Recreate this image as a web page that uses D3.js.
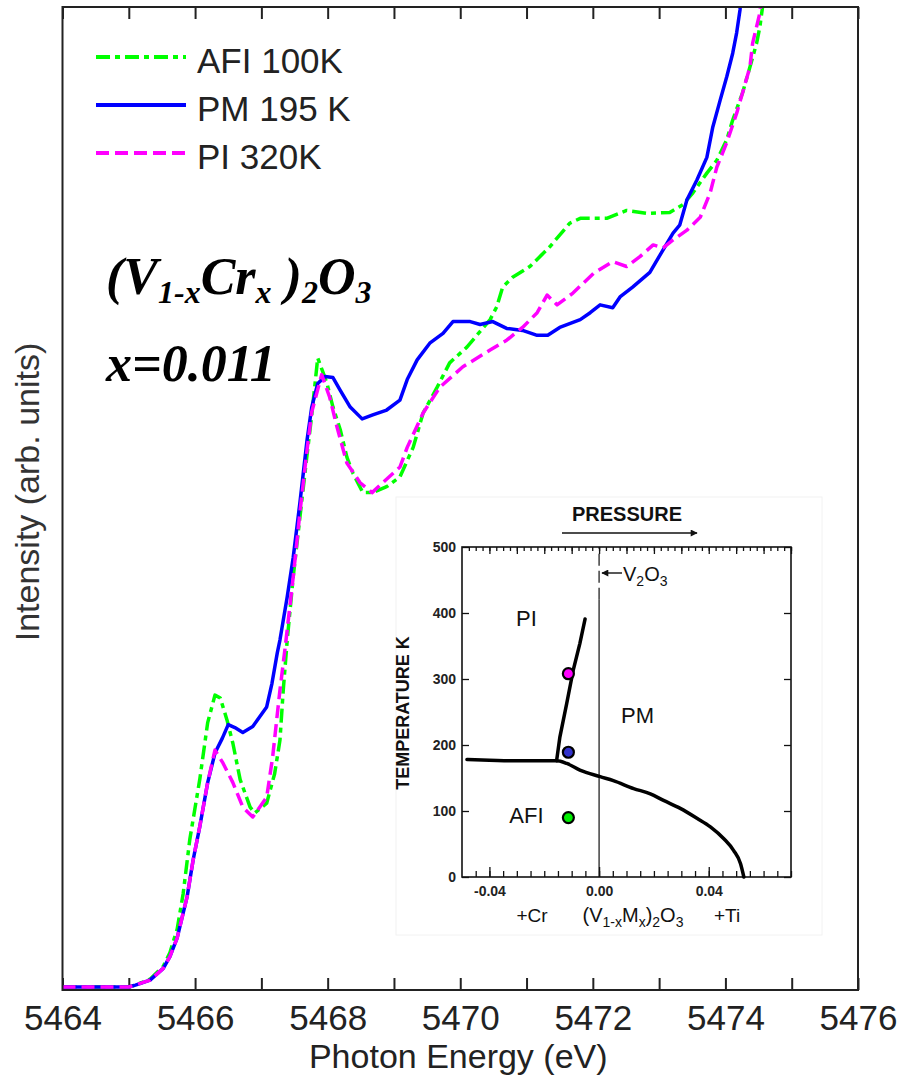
<!DOCTYPE html>
<html><head><meta charset="utf-8">
<script src="https://cdn.jsdelivr.net/npm/d3@7"></script>
<style>body{margin:0;background:#fff}svg{display:block}</style>
</head><body>
<script>
// ---------------- data ----------------
const energyTicks = [5464,5465,5466,5467,5468,5469,5470,5471,5472,5473,5474,5475,5476];
const energyLabels = [5464,5466,5468,5470,5472,5474,5476];

const afi100K = [[5464.00,0.03],[5464.50,0.03],[5465.00,0.03],[5465.10,0.05],[5465.32,0.11],[5465.52,0.24],[5465.62,0.38],[5465.73,0.62],[5465.82,0.98],[5465.92,1.53],[5466.07,2.14],[5466.19,2.72],[5466.30,3.00],[5466.38,2.97],[5466.48,2.75],[5466.57,2.51],[5466.68,2.14],[5466.83,1.86],[5466.90,1.80],[5467.08,1.90],[5467.20,2.20],[5467.28,2.54],[5467.33,3.05],[5467.39,3.56],[5467.48,4.20],[5467.58,4.80],[5467.69,5.45],[5467.76,5.85],[5467.85,6.43],[5467.92,6.30],[5467.99,6.17],[5468.08,5.93],[5468.19,5.70],[5468.29,5.42],[5468.38,5.26],[5468.53,5.06],[5468.68,5.06],[5468.89,5.12],[5469.09,5.22],[5469.29,5.52],[5469.44,5.87],[5469.65,6.13],[5469.84,6.38],[5470.10,6.54],[5470.45,6.82],[5470.55,6.95],[5470.64,7.15],[5470.79,7.25],[5471.05,7.36],[5471.35,7.56],[5471.65,7.80],[5471.81,7.85],[5472.21,7.85],[5472.51,7.93],[5472.81,7.90],[5473.16,7.91],[5473.36,7.99],[5473.51,8.11],[5473.72,8.31],[5473.87,8.44],[5474.02,8.65],[5474.11,8.85],[5474.26,9.13],[5474.37,9.39],[5474.47,9.63],[5474.52,9.80],[5474.56,10.0],[5474.62,10.3]];

const pm195K = [[5464.00,0.03],[5464.50,0.03],[5465.00,0.03],[5465.10,0.05],[5465.32,0.10],[5465.52,0.22],[5465.62,0.34],[5465.73,0.53],[5465.88,0.95],[5465.97,1.32],[5466.07,1.66],[5466.19,2.11],[5466.30,2.41],[5466.41,2.56],[5466.50,2.70],[5466.60,2.67],[5466.72,2.62],[5466.87,2.68],[5467.08,2.88],[5467.16,3.12],[5467.24,3.43],[5467.28,3.56],[5467.39,4.00],[5467.48,4.40],[5467.58,4.95],[5467.69,5.60],[5467.76,5.93],[5467.85,6.17],[5467.96,6.24],[5468.08,6.23],[5468.19,6.10],[5468.34,5.93],[5468.52,5.81],[5468.68,5.85],[5468.89,5.90],[5469.09,6.00],[5469.20,6.21],[5469.35,6.41],[5469.54,6.58],[5469.74,6.68],[5469.89,6.80],[5470.15,6.80],[5470.30,6.77],[5470.49,6.80],[5470.70,6.73],[5470.94,6.71],[5471.16,6.66],[5471.32,6.66],[5471.50,6.74],[5471.81,6.82],[5471.96,6.89],[5472.11,6.97],[5472.30,6.94],[5472.41,7.05],[5472.60,7.15],[5472.86,7.30],[5473.06,7.53],[5473.21,7.70],[5473.31,7.78],[5473.42,8.04],[5473.57,8.24],[5473.72,8.47],[5473.81,8.78],[5473.92,9.05],[5474.02,9.29],[5474.11,9.53],[5474.17,9.74],[5474.22,9.97],[5474.26,10.3]];

const pi320K = [[5464.00,0.03],[5464.50,0.03],[5465.00,0.03],[5465.10,0.05],[5465.32,0.10],[5465.52,0.22],[5465.62,0.34],[5465.73,0.53],[5465.88,0.95],[5465.97,1.32],[5466.07,1.66],[5466.19,2.11],[5466.30,2.44],[5466.42,2.31],[5466.57,2.11],[5466.72,1.86],[5466.87,1.76],[5467.08,1.96],[5467.17,2.37],[5467.28,3.05],[5467.36,3.49],[5467.48,4.20],[5467.58,4.85],[5467.69,5.50],[5467.76,5.88],[5467.91,6.26],[5468.03,6.03],[5468.14,5.73],[5468.29,5.36],[5468.49,5.16],[5468.67,5.06],[5468.83,5.16],[5469.09,5.32],[5469.20,5.52],[5469.44,5.87],[5469.69,6.13],[5470.04,6.34],[5470.45,6.51],[5470.70,6.61],[5470.94,6.74],[5471.16,6.89],[5471.31,7.07],[5471.46,6.97],[5471.70,7.09],[5472.01,7.29],[5472.30,7.41],[5472.51,7.36],[5472.71,7.46],[5472.91,7.58],[5473.06,7.55],[5473.21,7.63],[5473.42,7.73],[5473.62,7.86],[5473.77,8.11],[5473.87,8.37],[5474.02,8.62],[5474.17,8.92],[5474.26,9.13],[5474.37,9.39],[5474.41,9.63],[5474.52,9.94],[5474.56,10.3]];

const seriesNames = ["AFI 100K","PM 195 K","PI 320K"];
const seriesColors = ["#00ff00","#0000ff","#ff00ff"];

// inset: phase diagram (V1-xMx)2O3
const insetXTicks = [-0.04, 0.00, 0.04];
const insetYTicks = [0,100,200,300,400,500];
const neelLine = [[-0.0482,178],[-0.040,177],[-0.030,176],[-0.0155,176],[-0.0118,172],[-0.0070,162],[0.0004,152],[0.0052,146],[0.0126,134],[0.0187,126],[0.0235,116],[0.0296,104],[0.0357,89],[0.0406,76],[0.0455,58],[0.0491,40],[0.0516,20],[0.0528,0]];
const mitLine = [[-0.0155,176],[-0.0143,212],[-0.0118,263],[-0.0094,314],[-0.0070,354],[-0.0051,391]];
const samplePoints = [[-0.0112,308,"#ff00ff"],[-0.0112,189,"#3333cc"],[-0.0112,90,"#00ee00"]];
const phaseLabels = [["PI",-0.0265,392],["PM",0.0140,245],["AFI",-0.0265,94]];

// ---------------- layout ----------------
const W = 901, H = 1084;
const svg = d3.select("body").append("svg").attr("width", W).attr("height", H)
  .style("font-family","'Liberation Sans', Arial, sans-serif");

const L = 62.5, R = 858, T = 7, B = 990;
const x = d3.scaleLinear().domain([5464, 5476]).range([L, R]);
const y = d3.scaleLinear().domain([0, 10]).range([B, T]);
const ink = "#222";

svg.append("defs").append("clipPath").attr("id","plotclip")
  .append("rect").attr("x",L).attr("y",T).attr("width",R-L).attr("height",B-T);

// axes
const gb = svg.append("g").attr("transform",`translate(0,${B})`)
  .call(d3.axisBottom(x).tickValues(energyTicks).tickSizeInner(-12).tickSizeOuter(0).tickPadding(15)
    .tickFormat(d => energyLabels.includes(d) ? d : ""));
gb.select(".domain").remove();
gb.selectAll("line").attr("stroke",ink).attr("stroke-width",2);
gb.selectAll("text").attr("font-size",35).attr("fill",ink).attr("font-family","'Liberation Sans', Arial, sans-serif");

const gt = svg.append("g").attr("transform",`translate(0,${T})`)
  .call(d3.axisTop(x).tickValues(energyTicks).tickSizeInner(-12).tickSizeOuter(0).tickFormat(""));
gt.select(".domain").remove();
gt.selectAll("line").attr("stroke",ink).attr("stroke-width",2);

svg.append("text").attr("x",(L+R)/2 - 2).attr("y",1068).attr("text-anchor","middle")
  .attr("font-size",34).attr("fill",ink).text("Photon Energy (eV)");
svg.append("text").attr("transform","translate(39,492) rotate(-90)").attr("text-anchor","middle")
  .attr("font-size",34).attr("fill","#333").text("Intensity (arb. units)");

// curves
const line = d3.line().x(d => x(d[0])).y(d => y(d[1]));
const dashes = ["14,5,5,5", null, "13,6"];
const gc = svg.append("g").attr("clip-path","url(#plotclip)");
[afi100K, pm195K, pi320K].forEach((s,i) => {
  gc.append("path").datum(s).attr("d",line).attr("fill","none")
    .attr("stroke",seriesColors[i]).attr("stroke-width",3.5)
    .attr("stroke-dasharray",dashes[i]).attr("stroke-linejoin","round");
});

// frame
svg.append("rect").attr("x",L).attr("y",T).attr("width",R-L).attr("height",B-T)
  .attr("fill","none").attr("stroke",ink).attr("stroke-width",2);

// legend
const legY = [57,105,153];
seriesNames.forEach((n,i) => {
  svg.append("line").attr("x1",96).attr("x2",186).attr("y1",legY[i]).attr("y2",legY[i])
    .attr("stroke",seriesColors[i]).attr("stroke-width",4).attr("stroke-dasharray",dashes[i]);
  svg.append("text").attr("x",197).attr("y",legY[i]+15.5).attr("font-size",35).attr("fill",ink).text(n);
});

// formula text
const f1 = svg.append("text").attr("x",106).attr("y",294)
  .attr("font-family","'Liberation Serif','Times New Roman',serif").attr("font-weight","bold")
  .attr("font-style","italic").attr("font-size",52).attr("fill","#000");
const parts = [["(V",0],["1-x",1],["Cr",0],["x",1],[" )",0],["2",1],["O",0],["3",1]];
let prev = 0;
parts.forEach(([t,sub]) => {
  f1.append("tspan").attr("dy", (sub-prev)*9).attr("font-size", sub?32:52).text(t);
  prev = sub;
});
svg.append("text").attr("x",106).attr("y",381)
  .attr("font-family","'Liberation Serif','Times New Roman',serif").attr("font-weight","bold")
  .attr("font-style","italic").attr("font-size",52).attr("fill","#000").text("x=0.011");

// ---------------- inset ----------------
const iL = 462, iR = 791, iT = 547, iB = 877;
const xi = d3.scaleLinear().domain([-0.05, 0.07]).range([iL, iR]);
const yi = d3.scaleLinear().domain([0, 500]).range([iB, iT]);
const gi = svg.append("g");
gi.append("rect").attr("x",396).attr("y",497).attr("width",426).attr("height",438)
  .attr("fill","#fff").attr("stroke","#f2f2f2").attr("stroke-width",1);

// inset ticks
const tickLine = (g) => g.selectAll("line").attr("stroke","#111").attr("stroke-width",1.3);
const ib1 = gi.append("g").attr("transform",`translate(0,${iB})`)
  .call(d3.axisBottom(xi).tickValues(d3.range(-0.045,0.0701,0.005)).tickSizeInner(-6).tickSizeOuter(0).tickFormat(""));
ib1.select(".domain").remove(); tickLine(ib1);
const ib2 = gi.append("g").attr("transform",`translate(0,${iB})`)
  .call(d3.axisBottom(xi).tickValues(insetXTicks).tickSizeInner(-10).tickSizeOuter(0).tickPadding(9)
    .tickFormat(d => d.toFixed(2)));
ib2.select(".domain").remove(); tickLine(ib2);
ib2.selectAll("text").attr("font-size",14).attr("font-weight","bold").attr("fill","#222")
  .attr("font-family","'Liberation Sans', Arial, sans-serif");
const it1 = gi.append("g").attr("transform",`translate(0,${iT})`)
  .call(d3.axisTop(xi).tickValues(d3.range(-0.0475,0.0701,0.0025)).tickSizeInner(-4).tickSizeOuter(0).tickFormat(""));
it1.select(".domain").remove(); tickLine(it1);
const it2 = gi.append("g").attr("transform",`translate(0,${iT})`)
  .call(d3.axisTop(xi).tickValues(d3.range(-0.04,0.0701,0.01)).tickSizeInner(-7).tickSizeOuter(0).tickFormat(""));
it2.select(".domain").remove(); tickLine(it2);
const il = gi.append("g").attr("transform",`translate(${iL},0)`)
  .call(d3.axisLeft(yi).tickValues(insetYTicks).tickSizeInner(-7).tickSizeOuter(0).tickPadding(6));
il.select(".domain").remove(); tickLine(il);
il.selectAll("text").attr("font-size",14).attr("font-weight","bold").attr("fill","#222")
  .attr("font-family","'Liberation Sans', Arial, sans-serif");
const ir = gi.append("g").attr("transform",`translate(${iR},0)`)
  .call(d3.axisRight(yi).tickValues(insetYTicks).tickSizeInner(-7).tickSizeOuter(0).tickFormat(""));
ir.select(".domain").remove(); tickLine(ir);

gi.append("rect").attr("x",iL).attr("y",iT).attr("width",iR-iL).attr("height",iB-iT)
  .attr("fill","none").attr("stroke","#111").attr("stroke-width",1.6);

// V2O3 line
gi.append("line").attr("x1",xi(0)).attr("x2",xi(0)).attr("y1",yi(0)).attr("y2",yi(420))
  .attr("stroke","#111").attr("stroke-width",1.2);
gi.append("line").attr("x1",xi(0)).attr("x2",xi(0)).attr("y1",yi(420)).attr("y2",yi(500))
  .attr("stroke","#111").attr("stroke-width",1.2).attr("stroke-dasharray","12,5");

// boundaries
const il2 = d3.line().x(d => xi(d[0])).y(d => yi(d[1])).curve(d3.curveMonotoneX);
const il3 = d3.line().x(d => xi(d[0])).y(d => yi(d[1]));
gi.append("path").datum(neelLine).attr("d",il2).attr("fill","none").attr("stroke","#000").attr("stroke-width",3.5).attr("stroke-linecap","round");
gi.append("path").datum(mitLine).attr("d",il3).attr("fill","none").attr("stroke","#000").attr("stroke-width",3.5).attr("stroke-linecap","round");

samplePoints.forEach(p => {
  gi.append("circle").attr("cx",xi(p[0])).attr("cy",yi(p[1])).attr("r",5.5)
    .attr("fill",p[2]).attr("stroke","#000").attr("stroke-width",2.2);
});

phaseLabels.forEach(p => {
  gi.append("text").attr("x",xi(p[1])).attr("y",yi(p[2])).attr("text-anchor","middle")
    .attr("dy","0.36em").attr("font-size",22).attr("fill","#111").text(p[0]);
});

// PRESSURE arrow
const defs = svg.select("defs");
defs.append("marker").attr("id","ah").attr("viewBox","0 0 10 10").attr("refX",9).attr("refY",5)
  .attr("markerWidth",14).attr("markerHeight",7).attr("orient","auto").attr("markerUnits","userSpaceOnUse")
  .append("path").attr("d","M0,0L10,5L0,10z").attr("fill","#111");
gi.append("text").attr("x",627).attr("y",521).attr("text-anchor","middle").attr("font-size",20)
  .attr("font-weight","bold").attr("fill","#111").text("PRESSURE");
gi.append("line").attr("x1",562).attr("x2",697).attr("y1",533).attr("y2",533)
  .attr("stroke","#111").attr("stroke-width",1.6).attr("marker-end","url(#ah)");

// V2O3 label
gi.append("line").attr("x1",622).attr("x2",602).attr("y1",573).attr("y2",573)
  .attr("stroke","#111").attr("stroke-width",1.4).attr("marker-end","url(#ah)");
const v2 = gi.append("text").attr("x",623).attr("y",581).attr("font-size",20).attr("fill","#111");
v2.append("tspan").text("V");
v2.append("tspan").attr("dy",5).attr("font-size",14).text("2");
v2.append("tspan").attr("dy",-5).text("O");
v2.append("tspan").attr("dy",5).attr("font-size",14).text("3");

// axis titles of inset
gi.append("text").attr("transform","translate(409,713) rotate(-90)").attr("text-anchor","middle")
  .attr("font-size",18).attr("font-weight","bold").attr("fill","#111").text("TEMPERATURE K");
gi.append("text").attr("x",532).attr("y",922).attr("text-anchor","middle").attr("font-size",19).attr("fill","#111").text("+Cr");
gi.append("text").attr("x",727).attr("y",922).attr("text-anchor","middle").attr("font-size",19).attr("fill","#111").text("+Ti");
const vm = gi.append("text").attr("x",633).attr("y",922).attr("text-anchor","middle").attr("font-size",20).attr("fill","#111");
[["(V",0],["1-x",1],["M",0],["x",1],[")",0],["2",1],["O",0],["3",1]].reduce((pv,[t,s]) => {
  vm.append("tspan").attr("dy",(s-pv)*5).attr("font-size",s?14:20).text(t); return s; }, 0);
</script>
</body></html>
